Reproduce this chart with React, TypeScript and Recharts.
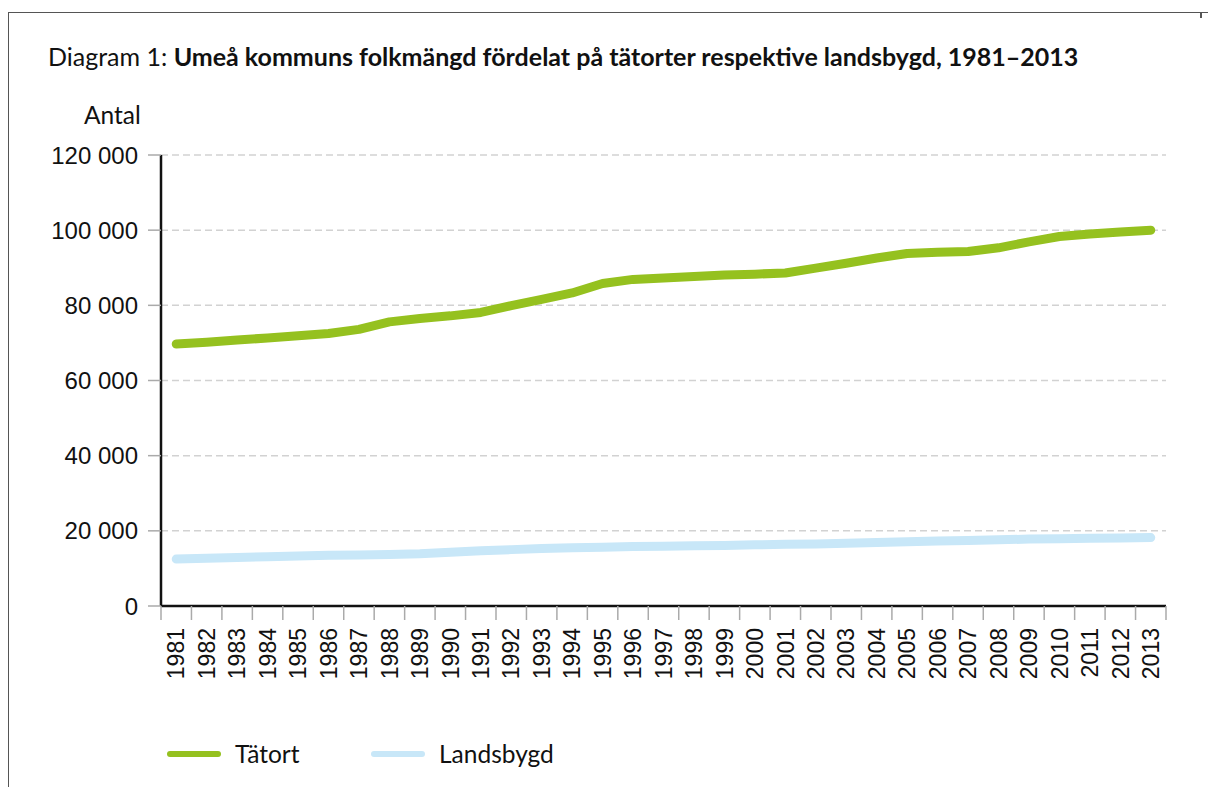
import { LineChart, Line, XAxis, YAxis, CartesianGrid } from 'recharts'

// Years on the x axis
const years = [
  1981, 1982, 1983, 1984, 1985, 1986, 1987, 1988, 1989, 1990, 1991,
  1992, 1993, 1994, 1995, 1996, 1997, 1998, 1999, 2000, 2001, 2002,
  2003, 2004, 2005, 2006, 2007, 2008, 2009, 2010, 2011, 2012, 2013
]

// Population in urban areas (tätort)
const tatort = [
  69700, 70200, 70800, 71300, 71900, 72500, 73600, 75600, 76500, 77200, 78100,
  79900, 81600, 83300, 85800, 86900, 87300, 87700, 88100, 88300, 88600, 89900,
  91200, 92600, 93800, 94100, 94300, 95300, 96900, 98300, 99000, 99500, 100000
]

// Population in rural areas (landsbygd)
const landsbygd = [
  12500, 12700, 12900, 13100, 13300, 13500, 13600, 13700, 13900, 14300, 14700,
  15000, 15300, 15500, 15600, 15800, 15900, 16000, 16100, 16300, 16400, 16500,
  16700, 16900, 17100, 17300, 17400, 17600, 17800, 17900, 18000, 18100, 18200
]

const yTicks = [0, 20000, 40000, 60000, 80000, 100000, 120000]

const series = [
  { key: 'tatort', label: 'Tätort', color: '#95c11f' },
  { key: 'landsbygd', label: 'Landsbygd', color: '#c8e7f8' }
]

const data = years.map((year, i) => ({ year, tatort: tatort[i], landsbygd: landsbygd[i] }))

const W = 1208
const H = 787
const plotLeft = 161
const plotRight = 1166
const plotTop = 155
const plotBottom = 606
const xAxisHeight = 80
const halfBand = (plotRight - plotLeft) / years.length / 2

const tickSize = 14
const tickMargin = 8
const axisFont = '"Liberation Sans", Arial, sans-serif'
const textFont = 'Lato, "Open Sans", sans-serif'

const formatThousands = (v: number) => {
  const s = String(v)
  return s.length > 3 ? s.slice(0, -3) + ' ' + s.slice(-3) : s
}

function YearTick(props: any) {
  const { x, y, payload, index } = props
  const lineTop = y - tickMargin - tickSize
  const lineBottom = y - tickMargin
  return (
    <g>
      <line x1={x - halfBand} x2={x - halfBand} y1={lineTop} y2={lineBottom} stroke="#aaaaaa" strokeWidth={1.5} />
      {index === years.length - 1 && (
        <line x1={x + halfBand} x2={x + halfBand} y1={lineTop} y2={lineBottom} stroke="#aaaaaa" strokeWidth={1.5} />
      )}
      <text
        x={x}
        y={y}
        dy="0.36em"
        textAnchor="end"
        transform={`rotate(-90, ${x}, ${y})`}
        fontSize={23}
        fontFamily={axisFont}
        fill="#111"
      >
        {payload.value}
      </text>
    </g>
  )
}

export default function App() {
  return (
    <div style={{ position: 'absolute', left: 0, top: 0, width: W, height: H, background: '#fff', overflow: 'hidden' }}>
      {/* frame */}
      <div style={{ position: 'absolute', left: 8, top: 12, width: W, height: H, borderTop: '1.5px solid #555', borderLeft: '1.5px solid #555' }} />
      <div style={{ position: 'absolute', left: 1200, top: 12, width: 1.5, height: 6, background: '#555' }} />

      <div style={{ position: 'absolute', left: 48, top: 41, fontFamily: textFont, fontSize: 25, color: '#111', whiteSpace: 'nowrap' }}>
        Diagram 1: <b>Umeå kommuns folkmängd fördelat på tätorter respektive landsbygd, 1981–2013</b>
      </div>
      <div style={{ position: 'absolute', left: 84, top: 100, fontFamily: textFont, fontSize: 24.5, color: '#111' }}>
        Antal
      </div>

      <div style={{ position: 'absolute', left: 0, top: 0 }}>
        <LineChart
          width={W}
          height={H}
          data={data}
          margin={{ top: plotTop, right: W - plotRight, left: 0, bottom: H - plotBottom - xAxisHeight }}
        >
          <CartesianGrid vertical={false} stroke="#d2d2d2" strokeWidth={1.5} strokeDasharray="7 4" />
          <XAxis
            dataKey="year"
            type="number"
            domain={[years[0] - 0.5, years[years.length - 1] + 0.5]}
            ticks={years}
            interval={0}
            height={xAxisHeight}
            tickSize={tickSize}
            tickMargin={tickMargin}
            tickLine={false}
            axisLine={{ stroke: '#111', strokeWidth: 2.5 }}
            tick={<YearTick />}
          />
          <YAxis
            domain={[0, 120000]}
            ticks={yTicks}
            width={plotLeft}
            tickSize={13}
            tickMargin={10}
            tickLine={{ stroke: '#aaaaaa', strokeWidth: 1.5 }}
            axisLine={{ stroke: '#111', strokeWidth: 2.5 }}
            tickFormatter={formatThousands}
            tick={{ fontSize: 24, fontFamily: axisFont, fill: '#111' }}
          />
          {series.map(s => (
            <Line
              key={s.key}
              type="linear"
              dataKey={s.key}
              stroke={s.color}
              strokeWidth={9}
              strokeLinecap="round"
              strokeLinejoin="round"
              dot={false}
              activeDot={false}
              isAnimationActive={false}
            />
          ))}
        </LineChart>
      </div>

      {/* legend */}
      {series.map((s, i) => (
        <div key={s.key} style={{ position: 'absolute', left: 167 + i * 204, top: 739, display: 'flex', alignItems: 'center', fontFamily: textFont, fontSize: 24.5, color: '#111' }}>
          <div style={{ width: 54, height: 6, borderRadius: 3, background: s.color, marginRight: 14 }} />
          <span>{s.label}</span>
        </div>
      ))}
    </div>
  )
}
